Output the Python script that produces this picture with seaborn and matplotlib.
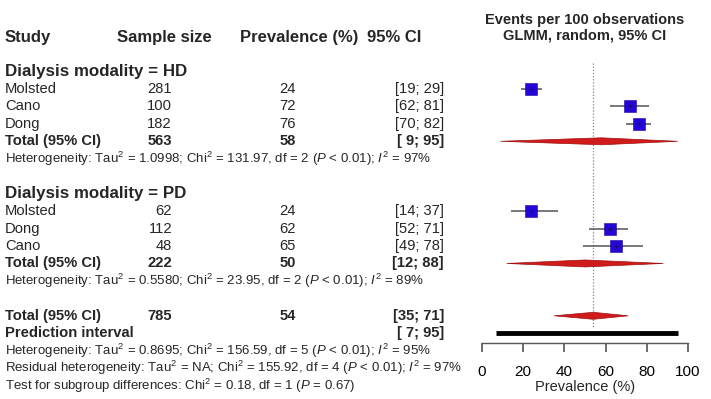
import matplotlib
matplotlib.use("Agg")
import matplotlib.pyplot as plt
import matplotlib.transforms as mtrans
from matplotlib.patches import Polygon
import seaborn as sns
import pandas as pd

# ---------------- data ----------------
hd_studies = ["Molsted", "Cano", "Dong"]
hd_n = [281, 100, 182]
hd_prev = [24, 72, 76]
hd_lo = [19, 62, 70]
hd_hi = [29, 81, 82]
hd_total = (563, 58, 9, 95)
hd_het = r"Heterogeneity: Tau$^2$ = 1.0998; Chi$^2$ = 131.97, df = 2 ($P$ < 0.01); $I^2$ = 97%"

pd_studies = ["Molsted", "Dong", "Cano"]
pd_n = [62, 112, 48]
pd_prev = [24, 62, 65]
pd_lo = [14, 52, 49]
pd_hi = [37, 71, 78]
pd_total = (222, 50, 12, 88)
pd_het = r"Heterogeneity: Tau$^2$ = 0.5580; Chi$^2$ = 23.95, df = 2 ($P$ < 0.01); $I^2$ = 89%"

overall_total = (785, 54, 35, 71)
pred_interval = (7, 95)
overall_texts = [
    r"Heterogeneity: Tau$^2$ = 0.8695; Chi$^2$ = 156.59, df = 5 ($P$ < 0.01); $I^2$ = 95%",
    r"Residual heterogeneity: Tau$^2$ = NA; Chi$^2$ = 155.92, df = 4 ($P$ < 0.01); $I^2$ = 97%",
    r"Test for subgroup differences: Chi$^2$ = 0.18, df = 1 ($P$ = 0.67)",
]
xticks = [0, 20, 40, 60, 80, 100]

# ---------------- style ----------------
sns.set_style("white")
FONT = "Liberation Sans"
plt.rcParams["font.family"] = [FONT, "DejaVu Sans"]
plt.rcParams["mathtext.fontset"] = "custom"
plt.rcParams["mathtext.rm"] = FONT
plt.rcParams["mathtext.it"] = FONT + ":italic"
plt.rcParams["mathtext.bf"] = FONT + ":bold"

W, H = 711, 399
fig = plt.figure(figsize=(W / 100, H / 100), dpi=100)
ax = fig.add_axes([482 / W, 56 / H, 206 / W, 343 / H])

row0 = 71.5
step = 17.45
ax.set_ylim((343 - row0) / step, -row0 / step)
ax.set_xlim(0, 100)

df_rows = []
for i, s in enumerate(hd_studies):
    df_rows.append(dict(row=1 + i, study=s, n=hd_n[i], prev=hd_prev[i], lo=hd_lo[i], hi=hd_hi[i]))
for i, s in enumerate(pd_studies):
    df_rows.append(dict(row=8 + i, study=s, n=pd_n[i], prev=pd_prev[i], lo=pd_lo[i], hi=pd_hi[i]))
df = pd.DataFrame(df_rows)

trans = mtrans.blended_transform_factory(fig.transFigure, ax.transData)

BASE = 10.6
HET = 9.5
HEAD = 12.0

def txt(xpx, row, s, ha="left", size=BASE, weight="normal", **kw):
    ax.text(xpx / W, row, s, transform=trans, ha=ha, va="center",
            fontsize=size, fontweight=weight, clip_on=False, **kw)

# headers
txt(5, -1.95, "Study", size=HEAD, weight="bold")
txt(117, -1.95, "Sample size", size=HEAD, weight="bold")
txt(240, -1.95, "Prevalence (%)", size=HEAD, weight="bold")
txt(367, -1.95, "95% CI", size=HEAD, weight="bold")
ax.text(585 / W, -2.95, "Events per 100 observations", transform=trans, ha="center",
        va="center", fontsize=10.5, fontweight="bold", clip_on=False)
ax.text(585 / W, -2.05, "GLMM, random, 95% CI", transform=trans, ha="center",
        va="center", fontsize=10.5, fontweight="bold", clip_on=False)

txt(5, 0, "Dialysis modality = HD", size=12.2, weight="bold")
txt(5, 7, "Dialysis modality = PD", size=12.2, weight="bold")

for _, r in df.iterrows():
    txt(5, r.row, r.study)
    txt(172, r.row, f"{r.n}", ha="right")
    txt(296, r.row, f"{r.prev}", ha="right")
    txt(444, r.row, f"[{r.lo}; {r.hi}]", ha="right")

def total_row(row, tot, label="Total (95% CI)"):
    n, p, lo, hi = tot
    txt(5, row, label, weight="bold")
    txt(172, row, f"{n}", ha="right", weight="bold")
    txt(296, row, f"{p}", ha="right", weight="bold")
    txt(444, row, f"[{lo}; {hi}]" if lo >= 10 else f"[ {lo}; {hi}]", ha="right", weight="bold")

total_row(4, hd_total)
total_row(11, pd_total)
total_row(14, overall_total)
txt(5, 15, "Prediction interval", weight="bold")
txt(444, 15, f"[ {pred_interval[0]}; {pred_interval[1]}]", ha="right", weight="bold")

txt(5, 5, hd_het, size=HET)
txt(5, 12, pd_het, size=HET)
for k, s in enumerate(overall_texts):
    txt(5, 16 + k, s, size=HET)

# reference line at overall estimate
ax.vlines(overall_total[1], -0.5, 14.65, colors="#888888", linestyles=(0, (1, 1.5)), linewidth=0.9)

# CI lines
ax.hlines(df["row"], df["lo"], df["hi"], colors="#555555", linewidth=1.1, zorder=2)
# squares
sns.scatterplot(data=df, x="prev", y="row", marker="s", s=80, color="#2407d6",
                edgecolor="#1a0599", linewidth=0.4, ax=ax, zorder=3, legend=False)
ax.scatter(df["prev"], df["row"], marker="+", s=12, color="#111155", linewidth=0.6, zorder=4)

# diamonds
def diamond(row, tot, half=0.2):
    _, p, lo, hi = tot
    poly = Polygon([(lo, row), (p, row - half), (hi, row), (p, row + half)],
                   closed=True, facecolor="#cf1b1b", edgecolor="#a01010", linewidth=0.5, zorder=3)
    ax.add_patch(poly)

diamond(4, hd_total)
diamond(11, pd_total)
diamond(14, overall_total)

# prediction interval bar
ax.hlines(15, pred_interval[0], pred_interval[1], colors="black", linewidth=3.5, zorder=3)

# axis styling
for sp in ["top", "right", "left"]:
    ax.spines[sp].set_visible(False)
ax.spines["bottom"].set_color("#555555")
ax.spines["bottom"].set_linewidth(1.0)
ax.set_xticks(xticks)
ax.set_xticklabels([str(t) for t in xticks], fontsize=11)
ax.tick_params(axis="x", bottom=True, direction="out", length=6.5, width=1.1,
               color="#444444", pad=9, labelcolor="black")
ax.set_yticks([])
ax.set_xlabel("Prevalence (%)", fontsize=10.5, labelpad=1)
ax.set_ylabel("")
ax.patch.set_alpha(0)

fig.savefig("out.png", dpi=100)
